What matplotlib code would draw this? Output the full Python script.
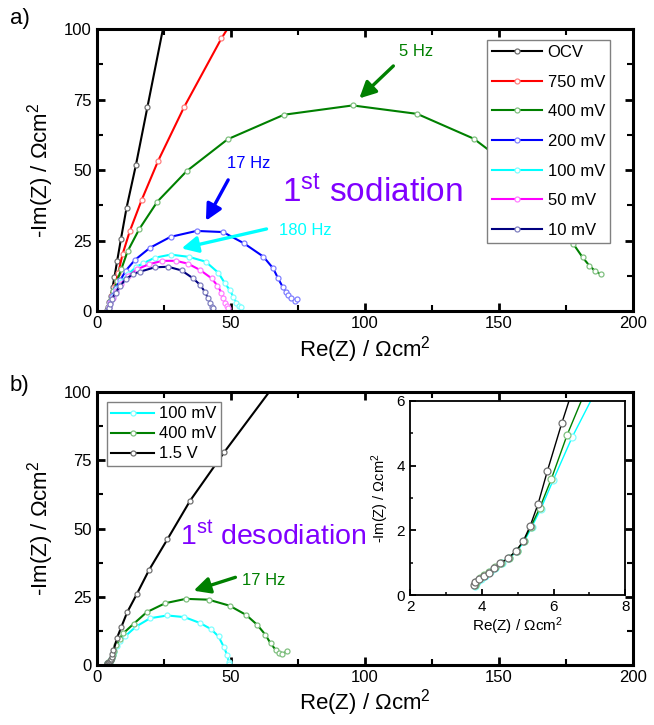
import matplotlib
matplotlib.use('Agg')
import matplotlib.pyplot as plt
from matplotlib.ticker import MultipleLocator

plt.rcParams['font.family'] = ['Liberation Sans', 'DejaVu Sans']
plt.rcParams['mathtext.fontset'] = 'custom'
plt.rcParams['mathtext.rm'] = 'Liberation Sans'
plt.rcParams['mathtext.default'] = 'regular'

# ---- a) 1st sodiation ----
ocv_x = [3.9, 4.2, 4.6, 5.2, 5.9, 6.6, 7.6, 9.0, 11.1, 14.6, 18.9, 25.5, 33.0]
ocv_y = [0.3, 1.5, 3.2, 5.5, 8.5, 12.1, 17.8, 25.5, 36.6, 51.8, 72.4, 104, 135]
mv750_x = [4.0, 4.4, 5.0, 5.8, 6.8, 8.0, 9.6, 12.3, 16.7, 22.9, 32.5, 46.5, 62.0]
mv750_y = [0.3, 1.5, 3.3, 5.8, 9.0, 13.5, 20.1, 28.3, 39.3, 53.3, 72.2, 96.7, 120]
mv400_x = [4.0, 4.5, 5.2, 6.2, 7.5, 9.2, 11.5, 15.8, 22.6, 33.5, 48.8, 69.8, 95.4,
           119.5, 140.6, 156.0, 167.0, 174.0, 177.7, 181.2, 183.7, 185.8, 187.9]
mv400_y = [0.3, 1.8, 4.0, 7.0, 10.5, 15.0, 21.2, 29.0, 38.8, 49.6, 60.9, 69.6, 72.9,
           69.9, 61.1, 50.0, 39.0, 30.0, 23.8, 19.0, 16.1, 14.2, 13.1]
mv200_x = [4.0, 4.4, 5.0, 5.8, 7.0, 8.8, 10.8, 14.2, 19.8, 27.5, 37.2, 47.1, 54.9,
           62.1, 65.8, 67.6, 69.3, 70.5, 71.4, 72.6, 73.9, 74.7]
mv200_y = [0.3, 1.5, 3.2, 5.2, 8.0, 11.0, 14.3, 18.1, 22.4, 26.3, 28.4, 28.0, 24.0,
           19.3, 15.1, 11.6, 8.6, 6.8, 5.7, 4.5, 3.7, 4.1]
mv100_x = [4.0, 4.4, 5.0, 5.9, 7.2, 9.0, 11.6, 14.8, 17.3, 21.6, 27.6, 34.4, 40.6,
           45.3, 47.8, 49.6, 50.9, 52.1, 53.1, 53.7]
mv100_y = [0.3, 1.4, 3.0, 5.0, 7.6, 10.2, 13.0, 15.7, 16.9, 18.9, 20.0, 19.2, 17.5,
           13.6, 9.8, 7.4, 5.1, 2.9, 1.8, 1.5]
mv50_x = [4.0, 4.4, 5.0, 5.9, 7.2, 9.0, 11.5, 15.0, 19.5, 24.5, 29.5, 34.0, 38.6,
          42.8, 45.0, 46.5, 47.2, 48.0, 48.6, 49.0]
mv50_y = [0.3, 1.3, 2.8, 4.7, 7.0, 9.6, 12.3, 14.8, 16.6, 17.8, 17.8, 16.8, 14.5,
          11.6, 9.0, 6.5, 4.5, 2.8, 1.7, 1.2]
mv10_x = [4.0, 4.4, 5.0, 5.8, 7.0, 8.6, 10.8, 13.4, 16.0, 21.6, 26.6, 31.6, 35.9,
          38.6, 40.3, 41.5, 42.4, 43.0, 43.4]
mv10_y = [0.3, 1.2, 2.6, 4.4, 6.5, 8.8, 11.3, 13.0, 13.9, 15.5, 15.7, 14.4, 11.6,
          9.2, 6.8, 4.5, 2.7, 1.5, 0.9]

# ---- b) 1st desodiation ----
d100_x = [3.82, 3.87, 3.97, 4.09, 4.23, 4.38, 4.55, 4.77, 4.99, 5.19, 5.39, 5.64, 5.99,
          6.52, 7.5, 8.6, 10.5, 14.6, 19.9, 26.3, 32.7, 38.6, 42.6, 45.4, 47.3, 48.6,
          49.2, 49.4]
d100_y = [0.30, 0.40, 0.50, 0.60, 0.71, 0.85, 0.98, 1.14, 1.37, 1.67, 2.10, 2.65, 3.55,
          4.88, 7.0, 8.8, 10.4, 14.0, 17.1, 18.1, 17.5, 15.3, 13.1, 10.4, 6.7, 3.7,
          1.2, 0.3]
d400_x = [3.80, 3.85, 3.95, 4.07, 4.21, 4.36, 4.53, 4.75, 4.97, 5.17, 5.37, 5.61, 5.94,
          6.38, 7.3, 8.5, 9.9, 13.7, 18.6, 25.5, 33.2, 41.7, 49.5, 55.7, 59.8, 62.9,
          64.8, 66.7, 67.9, 69.2, 70.8]
d400_y = [0.33, 0.42, 0.52, 0.62, 0.72, 0.86, 0.99, 1.15, 1.38, 1.68, 2.12, 2.68, 3.59,
          4.95, 7.4, 9.6, 11.6, 15.0, 19.3, 22.6, 24.2, 23.9, 21.7, 18.3, 14.7, 11.0,
          7.9, 5.5, 4.3, 4.0, 4.9]
d15_x = [3.77, 3.82, 3.93, 4.05, 4.19, 4.34, 4.51, 4.73, 4.96, 5.16, 5.35, 5.57, 5.83,
         6.23, 7.6, 9.2, 11.3, 14.9, 19.5, 26.3, 34.8, 47.6, 66.5, 85.0]
d15_y = [0.31, 0.41, 0.50, 0.60, 0.70, 0.85, 0.98, 1.14, 1.37, 1.68, 2.14, 2.82, 3.84,
         5.31, 10.0, 14.0, 19.2, 25.9, 34.8, 46.0, 60.2, 78.1, 103, 128]

top_series = [
    ('OCV', ocv_x, ocv_y, 'black', '#707070'),
    ('750 mV', mv750_x, mv750_y, '#FF0000', '#FF8080'),
    ('400 mV', mv400_x, mv400_y, '#008000', '#80C080'),
    ('200 mV', mv200_x, mv200_y, '#0000FF', '#8080FF'),
    ('100 mV', mv100_x, mv100_y, '#00FFFF', '#80FFFF'),
    ('50 mV', mv50_x, mv50_y, '#FF00FF', '#FF80FF'),
    ('10 mV', mv10_x, mv10_y, '#000080', '#8080C0'),
]
bottom_series = [
    ('100 mV', d100_x, d100_y, '#00FFFF', '#80FFFF'),
    ('400 mV', d400_x, d400_y, '#008000', '#80C080'),
    ('1.5 V', d15_x, d15_y, 'black', '#707070'),
]

ylab = '-Im(Z) / Ωcm$^2$'
xlab = 'Re(Z) / Ωcm$^2$'
purple = '#8000FF'


def style_main(ax):
    ax.set_xlim(0, 200)
    ax.set_ylim(0, 100)
    ax.xaxis.set_major_locator(MultipleLocator(50))
    ax.xaxis.set_minor_locator(MultipleLocator(25))
    ax.yaxis.set_major_locator(MultipleLocator(25))
    ax.yaxis.set_minor_locator(MultipleLocator(12.5))
    ax.tick_params(which='both', direction='in', top=True, right=True, labelsize=12)
    ax.tick_params(which='major', length=6, width=2)
    ax.tick_params(which='minor', length=4, width=1.5)
    for s in ax.spines.values():
        s.set_linewidth(2.2)
    ax.set_xlabel(xlab, fontsize=16, labelpad=2)
    ax.set_ylabel(ylab, fontsize=16, labelpad=6)


def arrow(ax, tail, head, color):
    ax.annotate('', xy=head, xytext=tail,
                arrowprops=dict(arrowstyle='-|>,head_length=0.7,head_width=0.35',
                                lw=2.4, color=color, shrinkA=0, shrinkB=0,
                                mutation_scale=14))


fig = plt.figure(figsize=(6.54, 7.25), dpi=100)

# ---- panel a ----
ax1 = fig.add_axes([0.148, 0.571, 0.820, 0.389])
for name, x, y, c, mc in top_series:
    ax1.plot(x, y, '-o', color=c, lw=1.5, ms=3.6, mfc='white', mec=mc, mew=0.9,
             label=name)
style_main(ax1)
leg = ax1.legend(loc='upper right', bbox_to_anchor=(0.957, 0.961), borderaxespad=0,
                 fontsize=12, handlelength=3.0, handletextpad=0.35, labelspacing=0.88,
                 borderpad=0.3, numpoints=1, fancybox=False, framealpha=1,
                 edgecolor='#808080')
leg.get_frame().set_linewidth(1.0)

ax1.text(119, 92, '5 Hz', color='#008000', fontsize=12, ha='center', va='center')
arrow(ax1, (110.6, 86.9), (97.9, 75.4), '#008000')
ax1.text(56.8, 52.4, '17 Hz', color='#0000FF', fontsize=12, ha='center', va='center')
arrow(ax1, (49.0, 46.5), (40.7, 32.0), '#0000FF')
ax1.text(77.9, 28.7, '180 Hz', color='#00FFFF', fontsize=12, ha='center', va='center')
arrow(ax1, (63.3, 29.1), (31.6, 22.2), '#00FFFF')
ax1.text(68.9, 41.8, '1$^{st}$ sodiation', color=purple, fontsize=24,
         ha='left', va='center')
fig.text(0.015, 0.975, 'a)', fontsize=16, ha='left', va='center')

# ---- panel b ----
ax2 = fig.add_axes([0.148, 0.083, 0.820, 0.376])
for name, x, y, c, mc in bottom_series:
    ax2.plot(x, y, '-o', color=c, lw=1.5, ms=3.6, mfc='white', mec=mc, mew=0.9,
             label=name)
style_main(ax2)
leg2 = ax2.legend(loc='upper left', bbox_to_anchor=(0.019, 0.963), borderaxespad=0,
                  fontsize=12, handlelength=2.6, handletextpad=0.3, labelspacing=0.3,
                  borderpad=0.25, numpoints=1, fancybox=False, framealpha=1,
                  edgecolor='#808080')
leg2.get_frame().set_linewidth(1.0)

ax2.text(62.3, 31.0, '17 Hz', color='#008000', fontsize=12, ha='center', va='center')
arrow(ax2, (51.7, 32.1), (36.1, 27.2), '#008000')
ax2.text(31.1, 47.0, '1$^{st}$ desodiation', color=purple, fontsize=20.5,
         ha='left', va='center')
fig.text(0.015, 0.468, 'b)', fontsize=16, ha='left', va='center')

# ---- inset ----
ax3 = fig.add_axes([0.627, 0.179, 0.329, 0.268])
for name, x, y, c, mc in bottom_series:
    ax3.plot(x, y, '-o', color=c, lw=1.0, ms=5, mfc='white', mec=mc, mew=0.9)
ax3.set_xlim(2, 8)
ax3.set_ylim(0, 6)
ax3.xaxis.set_major_locator(MultipleLocator(2))
ax3.xaxis.set_minor_locator(MultipleLocator(1))
ax3.yaxis.set_major_locator(MultipleLocator(2))
ax3.yaxis.set_minor_locator(MultipleLocator(1))
ax3.tick_params(which='both', direction='in', labelsize=11)
ax3.tick_params(which='major', length=4, width=1.3)
ax3.tick_params(which='minor', length=2.5, width=1.1)
for s in ax3.spines.values():
    s.set_linewidth(1.3)
ax3.set_xlabel(xlab, fontsize=11, labelpad=1)
ax3.set_ylabel(ylab, fontsize=10.5, labelpad=4)

fig.savefig('out.png', dpi=100)
